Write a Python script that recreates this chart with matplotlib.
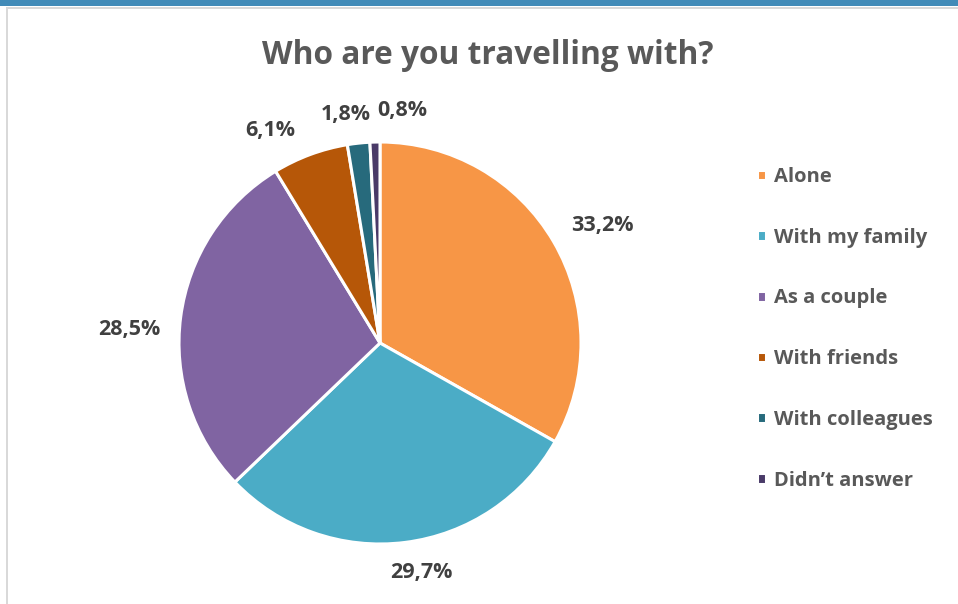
import matplotlib
matplotlib.use("Agg")
import matplotlib.pyplot as plt
import numpy as np
from matplotlib.patches import Rectangle

# данні
categories = ["Alone", "With my family", "As a couple", "With friends",
              "With colleagues", "Didn\u2019t answer"]
shares = [33.2, 29.7, 28.5, 6.1, 1.8, 0.8]
colors = ["#F79646", "#4BACC6", "#8064A2", "#B65708", "#276A7C", "#4A3A68"]
# відстань підпису від центру (в радіусах) та зсув кута, градуси
label_dist = [1.25, 1.16, 1.25, 1.19, 1.15, 1.16]
label_shift = [-2.5, 3.0, 4.3, 7.0, 2.5, -7.0]

plt.rcParams["font.family"] = ["Open Sans", "DejaVu Sans"]

W, H = 958, 604
fig = plt.figure(figsize=(W / 100, H / 100), dpi=100)

# рамка як у скріншоті
fig.patches.append(Rectangle((0, 1 - 6 / H), 1, 6 / H, transform=fig.transFigure,
                             facecolor="#428BB8", edgecolor="none"))
fig.patches.append(Rectangle((6 / W, 1 - 9 / H), 1, 2 / H, transform=fig.transFigure,
                             facecolor="#D9D9D9", edgecolor="none"))
fig.patches.append(Rectangle((6 / W, 0), 2 / W, 1 - 9 / H, transform=fig.transFigure,
                             facecolor="#D9D9D9", edgecolor="none"))

cx, cy, r = 380, 343, 201
ax = fig.add_axes([(cx - r) / W, (H - cy - r) / H, 2 * r / W, 2 * r / H])
wedges, _ = ax.pie(shares, colors=colors, startangle=90, counterclock=False,
                   radius=1, wedgeprops=dict(edgecolor="white", linewidth=2.2))
ax.set_xlim(-1, 1)
ax.set_ylim(-1, 1)
ax.axis("off")

for w, v, d, s in zip(wedges, shares, label_dist, label_shift):
    ang = np.deg2rad((w.theta1 + w.theta2) / 2 + s)
    ax.text(d * np.cos(ang), d * np.sin(ang), f"{v:.1f}%".replace(".", ","),
            ha="center", va="center", fontsize=15.5, fontweight="bold",
            color="#404040", clip_on=False)

fig.text(488 / W, 1 - 55 / H, "Who are you travelling with?", ha="center",
         va="center", fontsize=22.8, fontweight="bold", color="#595959")

leg = fig.legend(wedges, categories, loc="upper left",
                 bbox_to_anchor=(741 / W, 1 - 151 / H), frameon=False,
                 fontsize=14.5, labelspacing=2.02, handlelength=0.45,
                 handleheight=0.45, handletextpad=0.38, borderpad=0.3)
for t in leg.get_texts():
    t.set_color("#595959")
    t.set_fontweight("bold")

fig.savefig("out.png", dpi=100)
